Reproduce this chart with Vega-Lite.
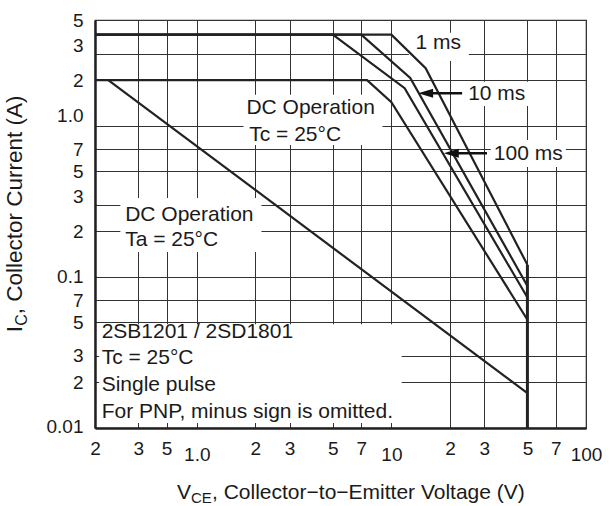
{
  "$schema": "https://vega.github.io/schema/vega-lite/v6.json",
  "width": 491,
  "height": 408,
  "autosize": {"type": "none"},
  "padding": {"left": 95, "top": 20, "right": 24, "bottom": 78},
  "background": "white",
  "config": {
    "view": {"stroke": "#333", "strokeWidth": 1.2, "fill": "white"},
    "font": "Liberation Sans",
    "text": {"font": "Liberation Sans", "color": "#1a1a1a"}
  },
  "datasets": {
    "curves": [
      {"s": "1 ms", "i": 0, "v": 0.3, "a": 4}, {"s": "1 ms", "i": 1, "v": 10, "a": 4}, {"s": "1 ms", "i": 2, "v": 15, "a": 2.4}, {"s": "1 ms", "i": 3, "v": 50, "a": 0.12},
      {"s": "10 ms", "i": 0, "v": 0.3, "a": 4}, {"s": "10 ms", "i": 1, "v": 7, "a": 4}, {"s": "10 ms", "i": 2, "v": 12.5, "a": 2.07}, {"s": "10 ms", "i": 3, "v": 50, "a": 0.087},
      {"s": "100 ms", "i": 0, "v": 0.3, "a": 4}, {"s": "100 ms", "i": 1, "v": 5, "a": 4}, {"s": "100 ms", "i": 2, "v": 11.7, "a": 1.77}, {"s": "100 ms", "i": 3, "v": 50, "a": 0.073},
      {"s": "DC Tc", "i": 0, "v": 0.3, "a": 2}, {"s": "DC Tc", "i": 1, "v": 7.5, "a": 2}, {"s": "DC Tc", "i": 2, "v": 10, "a": 1.43}, {"s": "DC Tc", "i": 3, "v": 50, "a": 0.052},
      {"s": "DC Ta", "i": 0, "v": 0.351, "a": 2}, {"s": "DC Ta", "i": 1, "v": 50, "a": 0.017}
    ],
    "limit": [{"i": 0, "v": 50, "a": 0.12}, {"i": 1, "v": 50, "a": 0.01}],
    "boxes": [
      {"x1": 1.74, "x2": 9.0, "y1": 0.745, "y2": 1.6},
      {"x1": 0.405, "x2": 2.15, "y1": 0.146, "y2": 0.332},
      {"x1": 0.315, "x2": 11.3, "y1": 0.0108, "y2": 0.0485},
      {"x1": 12.3, "x2": 25, "y1": 2.68, "y2": 4.11},
      {"x1": 23.6, "x2": 52, "y1": 1.35, "y2": 1.95},
      {"x1": 32.4, "x2": 78.8, "y1": 0.533, "y2": 0.804}
    ],
    "texts": [
      {"t": "1 ms", "v": 13.3, "a": 3.22},
      {"t": "10 ms", "v": 24.8, "a": 1.48},
      {"t": "100 ms", "v": 33.6, "a": 0.593},
      {"t": "DC Operation", "v": 1.8, "a": 1.195},
      {"t": "Tc = 25°C", "v": 1.86, "a": 0.796},
      {"t": "DC Operation", "v": 0.4285, "a": 0.235},
      {"t": "Ta = 25°C", "v": 0.4285, "a": 0.16},
      {"t": "2SB1201 / 2SD1801", "v": 0.3245, "a": 0.0391},
      {"t": "Tc = 25°C", "v": 0.3245, "a": 0.02642},
      {"t": "Single pulse", "v": 0.3245, "a": 0.01758},
      {"t": "For PNP, minus sign is omitted.", "v": 0.3245, "a": 0.01172}
    ],
    "arrows": [
      {"tail": 23.1, "head": 15.0, "a": 1.64},
      {"tail": 31.0, "head": 20.3, "a": 0.657}
    ],
    "one": [{}]
  },
  "layer": [
    {
      "data": {"name": "boxes"},
      "mark": {"type": "rect", "fill": "white", "stroke": null},
      "encoding": {
        "x": {
          "field": "x1", "type": "quantitative", "title": null,
          "scale": {"type": "log", "domain": [0.3, 100], "nice": false},
          "axis": {
            "title": null,
            "values": [0.3, 0.5, 0.7, 1, 2, 3, 5, 7, 10, 20, 30, 50, 70, 100],
            "labelExpr": "datum.value == 0.3 ? '2' : datum.value == 0.5 ? '3' : datum.value == 0.7 ? '5' : datum.value == 1 ? '1.0' : datum.value == 10 ? '10' : datum.value == 100 ? '100' : substring(format(datum.value, '.0e'), 0, 1)",
            "grid": true, "gridColor": "#333", "gridOpacity": 1, "gridWidth": 1,
            "ticks": false,
            "domain": true, "domainColor": "#222", "domainWidth": 2.5,
            "labelFont": "Liberation Sans", "labelFontSize": 19, "labelColor": "#1a1a1a",
            "labelPadding": {"condition": {"test": "datum.value == 1 || datum.value == 10 || datum.value == 100", "value": 17}, "value": 11},
            "labelFlush": false, "labelOverlap": false, "labelBound": false
          }
        },
        "x2": {"field": "x2"},
        "y": {
          "field": "y1", "type": "quantitative", "title": null,
          "scale": {"type": "log", "domain": [0.01, 5], "nice": false},
          "axis": {
            "title": null,
            "values": [0.01, 0.02, 0.03, 0.05, 0.07, 0.1, 0.2, 0.3, 0.5, 0.7, 1, 2, 3, 5],
            "labelExpr": "datum.value == 0.01 ? '0.01' : datum.value == 0.1 ? '0.1' : datum.value == 1 ? '1.0' : substring(format(datum.value, '.0e'), 0, 1)",
            "grid": true, "gridColor": "#333", "gridOpacity": 1, "gridWidth": 1,
            "ticks": false,
            "domain": true, "domainColor": "#222", "domainWidth": 2.5,
            "labelFont": "Liberation Sans", "labelFontSize": 19, "labelColor": "#1a1a1a",
            "labelPadding": 12,
            "labelOffset": {"condition": [
              {"test": "datum.value == 3 || datum.value == 0.3", "value": -8},
              {"test": "datum.value == 1", "value": -10},
              {"test": "datum.value == 0.01", "value": -2}
            ], "value": 0},
            "labelOverlap": false, "labelBound": false
          }
        },
        "y2": {"field": "y2"}
      }
    },
    {
      "data": {"name": "curves"},
      "mark": {"type": "line", "stroke": "#222", "strokeWidth": 2.2},
      "encoding": {
        "x": {"field": "v", "type": "quantitative", "title": null},
        "y": {"field": "a", "type": "quantitative", "title": null},
        "detail": {"field": "s"},
        "order": {"field": "i", "type": "quantitative"}
      }
    },
    {
      "data": {"name": "limit"},
      "mark": {"type": "line", "stroke": "#222", "strokeWidth": 3},
      "encoding": {
        "x": {"field": "v", "type": "quantitative", "title": null},
        "y": {"field": "a", "type": "quantitative", "title": null},
        "order": {"field": "i", "type": "quantitative"}
      }
    },
    {
      "data": {"name": "arrows"},
      "mark": {"type": "rule", "stroke": "#111", "strokeWidth": 2.5},
      "encoding": {
        "x": {"field": "tail", "type": "quantitative", "title": null},
        "x2": {"field": "head"},
        "y": {"field": "a", "type": "quantitative", "title": null}
      }
    },
    {
      "data": {"name": "arrows"},
      "mark": {"type": "point", "shape": "M1,-0.6L-1,0L1,0.6Z", "filled": true, "fill": "#111", "opacity": 1, "size": 225, "strokeWidth": 0},
      "encoding": {
        "x": {"field": "head", "type": "quantitative", "title": null},
        "y": {"field": "a", "type": "quantitative", "title": null}
      }
    },
    {
      "data": {"name": "texts"},
      "mark": {"type": "text", "align": "left", "baseline": "alphabetic", "fontSize": 21, "font": "Liberation Sans", "color": "#1a1a1a"},
      "encoding": {
        "x": {"field": "v", "type": "quantitative", "title": null},
        "y": {"field": "a", "type": "quantitative", "title": null},
        "text": {"field": "t"}
      }
    },
    {
      "data": {"name": "one"},
      "mark": {"type": "text", "text": "V", "align": "left", "baseline": "alphabetic", "fontSize": 21, "dx": 82, "dy": 71, "color": "#1a1a1a"},
      "encoding": {
        "x": {"datum": 0.3, "type": "quantitative", "title": null},
        "y": {"datum": 0.01, "type": "quantitative", "title": null}
      }
    },
    {
      "data": {"name": "one"},
      "mark": {"type": "text", "text": "CE", "align": "left", "baseline": "alphabetic", "fontSize": 15, "dx": 96, "dy": 75, "color": "#1a1a1a"},
      "encoding": {
        "x": {"datum": 0.3, "type": "quantitative", "title": null},
        "y": {"datum": 0.01, "type": "quantitative", "title": null}
      }
    },
    {
      "data": {"name": "one"},
      "mark": {"type": "text", "text": ", Collector−to−Emitter Voltage (V)", "align": "left", "baseline": "alphabetic", "fontSize": 21, "dx": 117, "dy": 71, "color": "#1a1a1a"},
      "encoding": {
        "x": {"datum": 0.3, "type": "quantitative", "title": null},
        "y": {"datum": 0.01, "type": "quantitative", "title": null}
      }
    },
    {
      "data": {"name": "one"},
      "mark": {"type": "text", "text": "I", "angle": 270, "align": "left", "baseline": "alphabetic", "fontSize": 22.5, "dx": 0, "dy": -73, "color": "#1a1a1a"},
      "encoding": {
        "x": {"datum": 0.3, "type": "quantitative", "title": null},
        "y": {"datum": 0.043, "type": "quantitative", "title": null}
      }
    },
    {
      "data": {"name": "one"},
      "mark": {"type": "text", "text": "C", "angle": 270, "align": "left", "baseline": "alphabetic", "fontSize": 16, "dx": 6.5, "dy": -68, "color": "#1a1a1a"},
      "encoding": {
        "x": {"datum": 0.3, "type": "quantitative", "title": null},
        "y": {"datum": 0.043, "type": "quantitative", "title": null}
      }
    },
    {
      "data": {"name": "one"},
      "mark": {"type": "text", "text": ", Collector Current (A)", "angle": 270, "align": "left", "baseline": "alphabetic", "fontSize": 22.5, "dx": 18, "dy": -73, "color": "#1a1a1a"},
      "encoding": {
        "x": {"datum": 0.3, "type": "quantitative", "title": null},
        "y": {"datum": 0.043, "type": "quantitative", "title": null}
      }
    }
  ]
}
